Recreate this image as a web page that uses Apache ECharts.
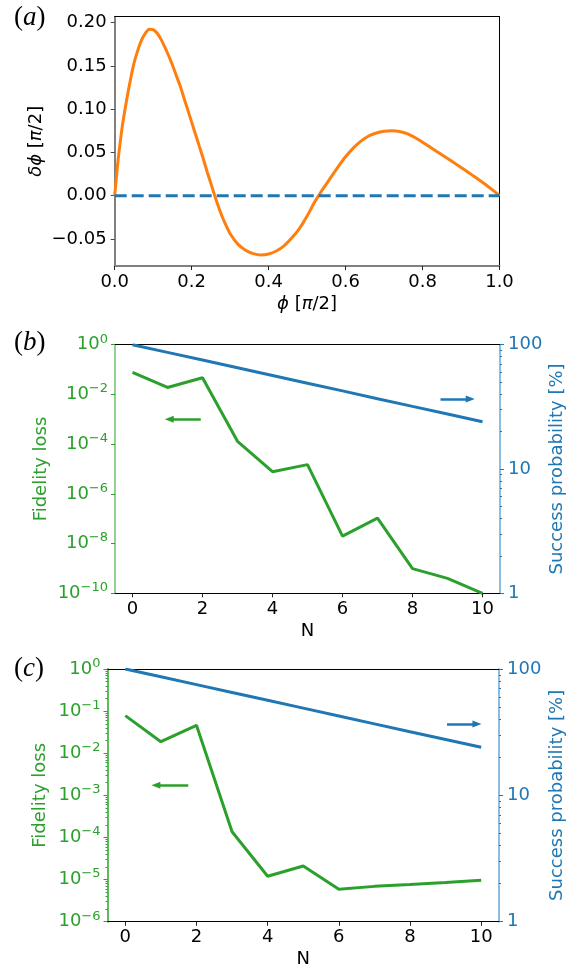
<!DOCTYPE html>
<html>
<head>
<meta charset="utf-8">
<script src="https://cdn.jsdelivr.net/npm/echarts@6/dist/echarts.min.js"></script>
<style>html,body{margin:0;padding:0;background:#fff}#chart{width:579px;height:971px}</style>
</head>
<body>
<div id="chart"></div>
<script>
// ---------- Panel (a) ----------
const phiA  = [0, 0.005, 0.01, 0.02, 0.03, 0.04, 0.05, 0.06, 0.07, 0.08, 0.09, 0.10, 0.11, 0.12, 0.13, 0.14, 0.15, 0.16, 0.17, 0.18, 0.19, 0.20, 0.21, 0.22, 0.23, 0.24, 0.25, 0.26, 0.27, 0.28, 0.29, 0.30, 0.32, 0.34, 0.36, 0.38, 0.40, 0.42, 0.44, 0.46, 0.48, 0.50, 0.52, 0.53, 0.54, 0.56, 0.58, 0.60, 0.62, 0.64, 0.66, 0.68, 0.70, 0.72, 0.74, 0.76, 0.78, 0.80, 0.82, 0.84, 0.86, 0.88, 0.90, 0.92, 0.94, 0.96, 0.98, 1.00];
const dphiA = [0, 0.024, 0.046, 0.081, 0.108, 0.132, 0.153, 0.168, 0.180, 0.188, 0.1925, 0.192, 0.188, 0.181, 0.172, 0.162, 0.151, 0.139, 0.127, 0.113, 0.099, 0.085, 0.071, 0.057, 0.043, 0.028, 0.014, 0.0, -0.013, -0.025, -0.035, -0.044, -0.056, -0.063, -0.067, -0.0686, -0.0675, -0.064, -0.058, -0.049, -0.038, -0.0235, -0.007, 0.0, 0.007, 0.020, 0.033, 0.045, 0.055, 0.063, 0.069, 0.0725, 0.0745, 0.075, 0.0743, 0.0718, 0.0672, 0.0618, 0.0561, 0.0503, 0.0445, 0.0386, 0.0326, 0.0266, 0.0205, 0.0140, 0.0072, 0];
const zeroX = [0, 1];
const zeroY = [0, 0];
const aXTicks = [0, 0.2, 0.4, 0.6, 0.8, 1.0];
const aYTicks = [-0.05, 0, 0.05, 0.10, 0.15, 0.20];

// ---------- Panels (b) and (c) ----------
const N = [0, 1, 2, 3, 4, 5, 6, 7, 8, 9, 10];
const fidLossB = [7.7e-2, 1.9e-2, 4.7e-2, 1.3e-4, 7.8e-6, 1.5e-5, 2.0e-8, 1.05e-7, 9.8e-10, 4.0e-10, 1.0e-10];
const successB = [100, 86.7, 75.2, 65.2, 56.5, 49.0, 42.5, 36.8, 31.9, 27.7, 24.0];
const fidLossC = [7.8e-2, 1.88e-2, 4.6e-2, 1.37e-4, 1.2e-5, 2.1e-5, 5.9e-6, 6.9e-6, 7.6e-6, 8.5e-6, 9.6e-6];
const successC = [100, 86.7, 75.2, 65.2, 56.5, 49.0, 42.5, 36.8, 31.9, 27.7, 24.0];
const nTicks = [0, 2, 4, 6, 8, 10];
const fidTicksB = [1, 1e-2, 1e-4, 1e-6, 1e-8, 1e-10];
const fidTicksC = [1, 1e-1, 1e-2, 1e-3, 1e-4, 1e-5, 1e-6];
const succTicks = [1, 10, 100];
// annotation arrows [x0, x1], y
const arrowFidB  = {x: [1.95, 1.05], y: 1e-3};
const arrowSuccB = {x: [8.8, 9.65], y: 36.6};
const arrowFidC  = {x: [1.77, 0.86], y: 1.73e-3};
const arrowSuccC = {x: [9.04, 9.88], y: 36.7};

const minorSucc = [];
for (let d = 0; d < 2; d++) for (let k = 2; k <= 9; k++) minorSucc.push(k * Math.pow(10, d));
const minorFidC = [];
for (let d = -6; d < 0; d++) for (let k = 2; k <= 9; k++) minorFidC.push(k * Math.pow(10, d));

const green = '#2ca02c', blue = '#1f77b4', orange = '#ff7f0e';
const FF = 'DejaVu Sans';
const pairs = (xs, ys) => xs.map((x, i) => [x, ys[i]]);

function sup(v) {
  const e = Math.round(Math.log10(v));
  const s = e < 0 ? '\u2212' + (-e) : String(e);
  return '{b|10}{s|' + s + '}';
}
function logLabel(color) {
  return {
    formatter: v => sup(v), margin: 7,
    rich: {
      b: {fontSize: 18, fontFamily: FF, color: color, lineHeight: 24},
      s: {fontSize: 13, fontFamily: FF, color: color, verticalAlign: 'top', lineHeight: 14}
    }
  };
}
const nameStyle = (color) => ({fontSize: 18, fontFamily: FF, color: color,
  rich: {i: {fontSize: 18, fontFamily: FF, color: color, fontStyle: 'italic'}}});

function spineX(grid, min, max, pos) {
  return {type: 'value', gridIndex: grid, position: pos, min: min, max: max,
    axisLine: {show: true, onZero: false, lineStyle: {color: '#000', width: 1}},
    axisTick: {show: false}, axisLabel: {show: false}, splitLine: {show: false}};
}
function bottomX(grid, min, max, ticks, fmt, name, lineColor, lineWidth) {
  return {type: 'value', gridIndex: grid, position: 'bottom', min: min, max: max,
    axisLine: {show: true, onZero: false, lineStyle: {color: lineColor, width: lineWidth}},
    axisTick: {show: true, length: 4, customValues: ticks, lineStyle: {color: '#222', width: 1}},
    axisLabel: {customValues: ticks, formatter: fmt, fontSize: 18, fontFamily: FF, color: '#000', margin: 7},
    splitLine: {show: false},
    name: name, nameLocation: 'middle', nameGap: 29, nameMoveOverlap: false, nameTextStyle: nameStyle('#000')};
}
function logY(grid, pos, min, max, ticks, color, lineColor, name, nameGap, labels) {
  const ax = {type: 'log', logBase: 10, gridIndex: grid, position: pos, min: min, max: max,
    axisLine: {show: true, onZero: false, lineStyle: {color: lineColor, width: 2}},
    axisTick: {show: true, length: 4, customValues: ticks, lineStyle: {color: color, width: 1}},
    splitLine: {show: false},
    name: name, nameLocation: 'middle', nameRotate: 90, nameGap: nameGap, nameMoveOverlap: false, nameTextStyle: nameStyle(color)};
  if (labels === 'sup') {
    ax.axisLabel = Object.assign({customValues: ticks}, logLabel(color));
  } else {
    ax.axisLabel = {customValues: ticks, fontSize: 18, fontFamily: FF, color: color, margin: 8, formatter: v => String(Math.round(v))};
  }
  return ax;
}
function minorY(grid, pos, min, max, ticks, color) {
  return {type: 'log', logBase: 10, gridIndex: grid, position: pos, min: min, max: max,
    axisLine: {show: false, onZero: false},
    axisTick: {show: true, length: 2, customValues: ticks, lineStyle: {color: color, width: 1}},
    axisLabel: {show: false}, splitLine: {show: false}};
}
function arrow(a, color) {
  return {silent: true, symbol: ['none', 'triangle'], symbolSize: [7, 9], animation: false,
    label: {show: false}, emphasis: {disabled: true},
    lineStyle: {color: color, width: 2.5, type: 'solid'},
    data: [[{coord: [a.x[0], a.y]}, {coord: [a.x[1], a.y]}]]};
}
function panelLabel(letter, top) {
  return {type: 'text', left: 14, top: top, style: {text: '({i|' + letter + '})', fontSize: 27, fontFamily: 'Liberation Serif', fill: '#000',
    rich: {i: {fontSize: 27, fontFamily: 'Liberation Serif', fontStyle: 'italic', fill: '#000'}}}};
}

const chart = echarts.init(document.getElementById('chart'), null, {renderer: 'canvas'});
const option = {
  animation: false,
  backgroundColor: '#fff',
  grid: [
    {left: 114.7, top: 16.7, width: 384.8, height: 249.3, outerBoundsMode: 'none'},
    {left: 115, top: 344.7, width: 385, height: 248.6, outerBoundsMode: 'none'},
    {left: 107.5, top: 669, width: 391.5, height: 252.7, outerBoundsMode: 'none'}
  ],
  xAxis: [
    bottomX(0, 0, 1, aXTicks, v => v.toFixed(1), '{i|\u03d5} [{i|\u03c0}/2]', '#808080', 2),
    spineX(0, 0, 1, 'top'),
    bottomX(1, -0.5, 10.5, nTicks, v => String(v), 'N', '#000', 1),
    spineX(1, -0.5, 10.5, 'top'),
    bottomX(2, -0.5, 10.5, nTicks, v => String(v), 'N', '#000', 1),
    spineX(2, -0.5, 10.5, 'top')
  ],
  yAxis: [
    {type: 'value', gridIndex: 0, position: 'left', min: -0.0813, max: 0.2069,
      axisLine: {show: true, onZero: false, lineStyle: {color: '#808080', width: 2}},
      axisTick: {show: true, length: 4, customValues: aYTicks, lineStyle: {color: '#444', width: 1}},
      axisLabel: {customValues: aYTicks, fontSize: 18, fontFamily: FF, color: '#000', margin: 8,
        formatter: v => (v < 0 ? '\u2212' : '') + Math.abs(v).toFixed(2)},
      splitLine: {show: false},
      name: '{i|\u03b4\u03d5} [{i|\u03c0}/2]', nameLocation: 'middle', nameRotate: 90, nameGap: 69, nameMoveOverlap: false, nameTextStyle: nameStyle('#000')},
    {type: 'value', gridIndex: 0, position: 'right', min: -0.0813, max: 0.2069,
      axisLine: {show: true, onZero: false, lineStyle: {color: '#000', width: 1}},
      axisTick: {show: false}, axisLabel: {show: false}, splitLine: {show: false}},
    logY(1, 'left', 1e-10, 1, fidTicksB, green, '#93d093', 'Fidelity loss', 65, 'sup'),
    logY(1, 'right', 1, 100, succTicks, blue, '#8fbde0', 'Success probability [%]', 48, 'num'),
    minorY(1, 'right', 1, 100, minorSucc, blue),
    logY(2, 'left', 1e-6, 1, fidTicksC, green, '#5fb95f', 'Fidelity loss', 58, 'sup'),
    minorY(2, 'left', 1e-6, 1, minorFidC, green),
    logY(2, 'right', 1, 100, succTicks, blue, '#8fbde0', 'Success probability [%]', 49, 'num'),
    minorY(2, 'right', 1, 100, minorSucc, blue)
  ],
  graphic: [panelLabel('a', 4), panelLabel('b', 329), panelLabel('c', 655)],
  series: [
    {type: 'line', name: 'delta phi', xAxisIndex: 0, yAxisIndex: 0, data: pairs(phiA, dphiA), smooth: 0.25,
      showSymbol: false, lineStyle: {color: orange, width: 3}, itemStyle: {color: orange}},
    {type: 'line', name: 'zero', xAxisIndex: 0, yAxisIndex: 0, data: pairs(zeroX, zeroY),
      showSymbol: false, lineStyle: {color: blue, width: 3, type: [12, 5]}, itemStyle: {color: blue}, z: 3},
    {type: 'line', name: 'Fidelity loss (b)', xAxisIndex: 2, yAxisIndex: 2, data: pairs(N, fidLossB),
      showSymbol: false, lineStyle: {color: green, width: 3}, itemStyle: {color: green}, markLine: arrow(arrowFidB, green)},
    {type: 'line', name: 'Success probability (b)', xAxisIndex: 2, yAxisIndex: 3, data: pairs(N, successB),
      showSymbol: false, lineStyle: {color: blue, width: 3}, itemStyle: {color: blue}, markLine: arrow(arrowSuccB, blue)},
    {type: 'line', name: 'Fidelity loss (c)', xAxisIndex: 4, yAxisIndex: 5, data: pairs(N, fidLossC),
      showSymbol: false, lineStyle: {color: green, width: 3}, itemStyle: {color: green}, markLine: arrow(arrowFidC, green)},
    {type: 'line', name: 'Success probability (c)', xAxisIndex: 4, yAxisIndex: 7, data: pairs(N, successC),
      showSymbol: false, lineStyle: {color: blue, width: 3}, itemStyle: {color: blue}, markLine: arrow(arrowSuccC, blue)}
  ]
};
chart.setOption(option);
</script>
</body>
</html>
